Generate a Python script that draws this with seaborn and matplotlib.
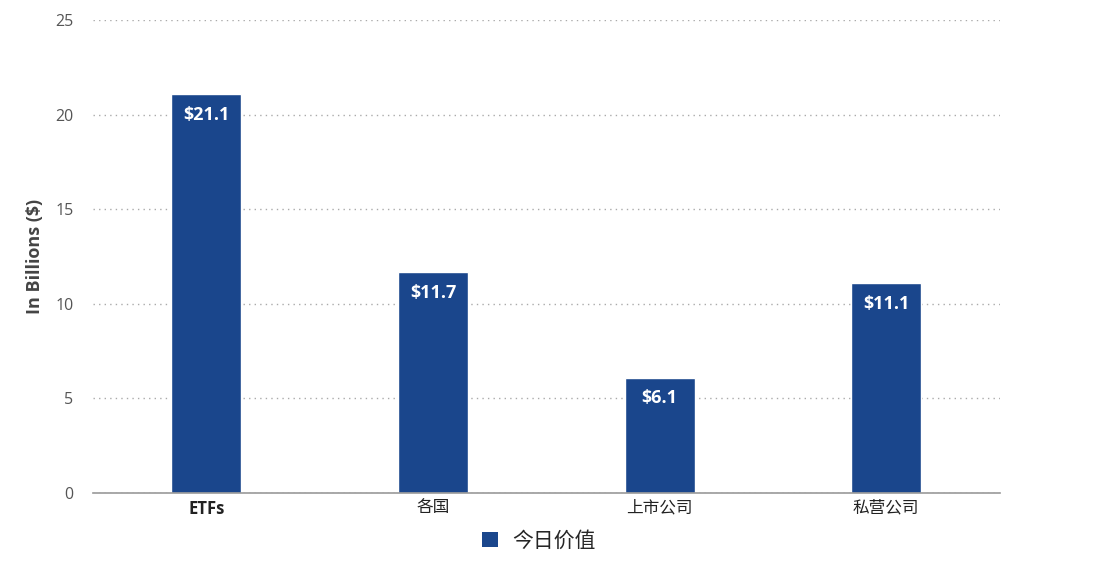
import matplotlib
matplotlib.use("Agg")
import matplotlib.pyplot as plt
import seaborn as sns
import pandas as pd
from matplotlib.patches import Patch

categories = ["ETFs", "各国", "上市公司", "私营公司"]
values = [21.1, 11.7, 6.1, 11.1]
value_labels = ["$21.1", "$11.7", "$6.1", "$11.1"]
series_name = "今日价值"
y_ticks = [0, 5, 10, 15, 20, 25]

sns.set_theme(style="white")
plt.rcParams['font.family'] = ['Open Sans', 'Noto Sans CJK SC', 'DejaVu Sans']

bar_color = "#1a468c"
df = pd.DataFrame({"cat": categories, "val": values})

fig = plt.figure(figsize=(11.07, 5.67), dpi=100)
ax = fig.add_axes([0.084, 0.1305, 0.819, 0.834])
sns.barplot(data=df, x="cat", y="val", color=bar_color, width=0.31, ax=ax, saturation=1)

ax.set_xlim(-0.5, 3.5)
ax.set_ylim(0, 25)
ax.set_yticks(y_ticks)
ax.set_yticklabels([str(t) for t in y_ticks], color="#555555", fontsize=11.5)
ax.yaxis.grid(True, linestyle=(0, (1, 3)), color="#aaaaaa", linewidth=1)
ax.set_axisbelow(True)
for s in ["top", "right", "left"]:
    ax.spines[s].set_visible(False)
ax.spines["bottom"].set_color("#999999")
ax.spines["bottom"].set_linewidth(1.2)
ax.tick_params(axis="y", length=0, pad=14)
ax.tick_params(axis="x", length=0, pad=5)
ax.set_xticks(range(len(categories)))
ax.set_xticklabels(categories, fontsize=12, color="#222222")
for lbl in ax.get_xticklabels():
    if lbl.get_text() == "ETFs":
        lbl.set_fontweight("bold")
ax.set_xlabel("")
ax.set_ylabel("In Billions ($)", fontsize=13, fontweight="bold", color="#444444", labelpad=8)

for i, (v, lab) in enumerate(zip(values, value_labels)):
    ax.text(i, v - 1.1, lab, ha="center", va="center", color="white",
            fontsize=13, fontweight="bold")

handle = Patch(facecolor=bar_color, edgecolor="none")
fig.legend([handle], [series_name], loc="center", bbox_to_anchor=(0.487, 0.045),
           frameon=False, fontsize=15, handlelength=0.75, handleheight=0.75,
           handletextpad=0.7)

fig.savefig("out.png", dpi=100, facecolor="white")
